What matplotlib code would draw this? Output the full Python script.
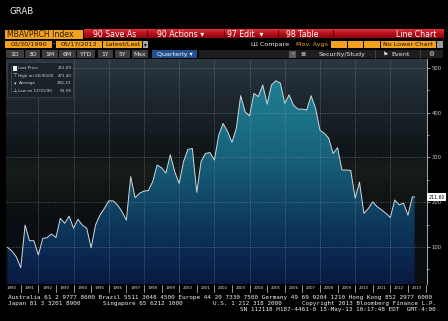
import numpy as np
import pandas as pd
import matplotlib
matplotlib.use("Agg")
import matplotlib.pyplot as plt
from matplotlib.colors import LinearSegmentedColormap
from matplotlib.patches import Rectangle, Polygon

# ---------------- data ----------------
quarter_dates = list(pd.date_range("1990-03-31", "2013-03-31", freq="QE")) + [pd.Timestamp("2013-05-17")]
index_values = [
    99, 91, 78, 53.59,        # 1990
    149, 114, 114, 82,        # 1991
    119, 121, 129, 121,       # 1992
    164, 153, 169, 142,       # 1993
    162, 149, 142, 98,        # 1994
    149, 171, 186, 203,       # 1995
    203, 194, 179, 160,       # 1996
    257, 210, 220, 225,       # 1997
    226, 246, 283, 277,       # 1998
    265, 306, 268, 242,       # 1999
    291, 318, 320, 222,       # 2000
    291, 309, 311, 294,       # 2001
    350, 376, 358, 334,       # 2002
    365, 438, 402, 393,       # 2003
    443, 436, 462, 419,       # 2004
    462, 471.40, 466, 421,    # 2005
    440, 417, 408, 408,       # 2006
    406, 438, 410, 361,       # 2007
    354, 343, 309, 322,       # 2008
    272, 272, 271, 209,       # 2009
    245, 175, 186, 201,       # 2010
    190, 183, 175, 166,       # 2011
    205, 194, 198, 171,       # 2012
    212, 211.60,              # 2013
]
y_ticks = [100, 200, 300, 400, 500]
y_minor = [50, 150, 250, 350, 450]
year_labels = [str(y) for y in range(1990, 2014)]
grid_years = list(range(1992, 2013, 2))
legend_labels = ["Last Price", "High on 06/30/05", "Average", "Low on 12/31/90"]
legend_values = ["211.60", "471.40", "256.33", "53.59"]
last_price = 211.60
last_price_text = "211.60"


def dec_year(d):
    days = 366 if d.is_leap_year else 365
    return d.year + (d.dayofyear - 0.5) / days


t = np.array([dec_year(d) for d in quarter_dates])
v = np.array(index_values, dtype=float)

W, H = 448, 321
fig = plt.figure(figsize=(W / 100, H / 100), dpi=100, facecolor="black")

# ---------------- main plot ----------------
PL, PR, PT, PB = 6, 427, 59, 284
ax = fig.add_axes([PL / W, (H - PB) / H, (PR - PL) / W, (PB - PT) / H])
X0, X1 = 1990.16, 2014.08
Y0, Y1 = 17.3, 520
ax.set_xlim(X0, X1)
ax.set_ylim(Y0, Y1)
ax.set_facecolor("black")

# background gradient (top -> bottom)
bg_cmap = LinearSegmentedColormap.from_list(
    "bg",
    [(0.0, "#2c3841"), (0.12, "#212b33"), (0.3, "#161e24"), (0.4, "#0f1518"),
     (0.5, "#171d1b"), (0.58, "#121715"), (0.68, "#0c1013"), (1.0, "#0a0e14")])
bg_arr = bg_cmap(np.linspace(0, 1, 256))[:, None, :3]
ax.imshow(bg_arr, extent=[X0, X1, Y0, Y1], aspect="auto", origin="upper", zorder=0)

# gradient fill below line
fill_cmap = LinearSegmentedColormap.from_list(
    "fill",
    [(0.0, "#22889c"), (0.1, "#1f7f92"), (0.3, "#1b6f85"), (0.45, "#175f79"),
     (0.6, "#124b69"), (0.72, "#0e3b5d"), (0.85, "#0b2a52"), (1.0, "#091a40")])
fill_arr = fill_cmap(np.linspace(0, 1, 256))[:, None, :3]
im = ax.imshow(fill_arr, extent=[X0, X1, Y0, Y1], aspect="auto", origin="upper", zorder=1)
verts = np.vstack([[t[0], Y0], np.column_stack([t, v]), [t[-1], Y0]])
poly = Polygon(verts, closed=True, facecolor="none", edgecolor="none", transform=ax.transData)
ax.add_patch(poly)
im.set_clip_path(poly)

# grid
for gy in grid_years:
    ax.axvline(gy, color="#8a949c", lw=0.5, dashes=(1.5, 2), zorder=2, alpha=0.75)
for yt in y_ticks:
    ax.axhline(yt, color="#8a949c", lw=0.5, dashes=(1.5, 2), zorder=2, alpha=0.75)

# price line
ax.plot(t, v, color="#d0d8de", lw=0.7, zorder=3)

# axes styling
ax.set_xticks([])
ax.yaxis.tick_right()
ax.set_yticks(y_ticks)
ax.set_yticks(y_minor, minor=True)
ax.set_yticklabels([str(y) for y in y_ticks])
ax.tick_params(axis="y", which="major", direction="out", length=2, width=0.5,
               colors="#d0d0d0", labelsize=3.8, pad=1.5)
ax.tick_params(axis="y", which="minor", direction="out", length=1.5, width=0.5, colors="#d0d0d0")
for s in ["left", "top", "bottom"]:
    ax.spines[s].set_visible(False)
ax.spines["right"].set_color("#c8c8c8")
ax.spines["right"].set_linewidth(0.6)

# last price tag
ax.text(1.003, last_price, last_price_text, transform=ax.get_yaxis_transform(),
        ha="left", va="center", fontsize=3.4, color="black", clip_on=False,
        bbox=dict(facecolor="white", edgecolor="none", pad=0.8), zorder=5)

# year labels
xt = ax.get_xaxis_transform()
for i, lab in enumerate(year_labels):
    yr = 1990 + i
    ax.text(yr + 0.5, -0.018, lab, transform=xt, ha="center", va="center",
            fontsize=2.9, color="#e6e6e6", clip_on=False)
    if yr > 1990:
        ax.plot([yr, yr], [-0.006, -0.034], transform=xt, color="#d0d0d0", lw=0.5, clip_on=False)
ax.plot([2014, 2014], [-0.006, -0.034], transform=xt, color="#d0d0d0", lw=0.5, clip_on=False)

# ---------------- overlay (chrome, pixel coordinates) ----------------
ov = fig.add_axes([0, 0, 1, 1], zorder=10)
ov.set_xlim(0, W)
ov.set_ylim(H, 0)
ov.axis("off")
ov.patch.set_alpha(0)

ORANGE = "#f2a21e"


def rect(x0, y0, x1, y1, fc, ec="none", lw=0, alpha=1.0, z=1):
    ov.add_patch(Rectangle((x0, y0), x1 - x0, y1 - y0, facecolor=fc, edgecolor=ec,
                           lw=lw, alpha=alpha, zorder=z))


def txt(x, y, s, size=5.0, color="white", ha="left", family="DejaVu Sans", z=3, **kw):
    ov.text(x, y, s, fontsize=size, color=color, ha=ha, va="center", family=family, zorder=z, **kw)


txt(10, 11, "GRAB", size=6.2, color="#f0f0f0")

# row 1
rect(5, 29.5, 83, 38.5, ORANGE)
txt(7, 34.2, "MBAVPRCH Index", size=5.6, color="#2a1800")
red_cmap = LinearSegmentedColormap.from_list("red", ["#e0303a", "#b8101c", "#8c0810"])
ov.imshow(red_cmap(np.linspace(0, 1, 32))[:, None, :3], extent=[83.5, 443, 38.5, 29.5],
          aspect="auto", origin="upper", zorder=1)
for sx in [147, 224, 278, 333]:
    ov.plot([sx, sx], [29.5, 38.5], color="#5a0006", lw=0.6, zorder=2)
txt(93, 34.2, "90 Save As", size=5.6)
txt(157, 34.2, "90 Actions \u25be", size=5.6)
txt(227, 34.2, "97 Edit  \u25be", size=5.6)
txt(286, 34.2, "98 Table", size=5.6)
txt(436, 34.2, "Line Chart", size=5.6, ha="right")

# row 2
rect(5, 40.5, 52, 47.5, ORANGE)
txt(28.5, 44.2, "03/30/1990", size=4.6, color="#1a1000", ha="center")
txt(53.8, 44.0, "-", size=4.6, color="#f0f0f0", ha="center")
rect(56, 40.5, 102, 47.5, ORANGE)
txt(79, 44.2, "05/17/2013", size=4.6, color="#1a1000", ha="center")
rect(103, 40.5, 142, 47.5, ORANGE)
txt(122.5, 44.2, "Latest/Last", size=4.6, color="#1a1000", ha="center")
rect(143, 40.5, 148, 47.5, "#a8a8a8")
txt(145.5, 44.2, "\u25be", size=4, color="black", ha="center")
txt(251, 44.2, "Ш Compare", size=4.6, color="#f0f0f0")
txt(296, 44.2, "Mov. Avgs", size=4.6, color=ORANGE)
rect(331, 40.5, 347, 47.5, ORANGE)
rect(348, 40.5, 363, 47.5, ORANGE)
rect(364, 40.5, 380, 47.5, ORANGE)
rect(381, 40.5, 436, 47.5, ORANGE)
txt(383, 44.2, "No Lower Chart", size=4.6, color="#1a1000")
rect(437, 40.5, 443, 47.5, "#9a9a9a")

# row 3
btns = [("1D", 6, 24), ("3D", 25, 40), ("1M", 42, 58), ("6M", 59, 76), ("YTD", 77, 95),
        ("1Y", 98, 113), ("5Y", 115, 130), ("Max", 132, 148)]
for lab, a, b in btns:
    rect(a, 50, b, 58, "#3c3c3c")
    txt((a + b) / 2, 54.2, lab, size=4.4, color="#e8e8e8", ha="center")
rect(152, 50, 197, 58, "#22508f")
txt(174.5, 54.2, "Quarterly \u25be", size=4.6, color="white", ha="center")
rect(199, 50, 443, 58, "#1e1e1e")
rect(289, 50.5, 296, 57.5, "#5a5a5a")
txt(292.5, 54.0, "\u203a", size=4.6, color="white", ha="center")
txt(300, 54.2, "\u2263", size=4.6, color="#e0e0e0")
txt(319, 54.2, "Security/Study", size=4.6, color="#e8e8e8")
ov.plot([375, 375], [50, 58], color="#555555", lw=0.5)
txt(383, 54.2, "\u2691", size=4.2, color="#e8e8e8")
txt(391, 54.2, "Event", size=4.6, color="#e8e8e8")
ov.plot([420, 420], [50, 58], color="#555555", lw=0.5)
txt(428, 54.2, "\u2699", size=4.8, color="#e8e8e8")

# legend box
rect(7, 62, 73, 97, "#1a2329", ec="#3c4852", lw=0.5, alpha=0.92, z=1)
ly = [68.3, 75.7, 83.2, 90.6]
for y, lab, val in zip(ly, legend_labels, legend_values):
    txt(18.5, y, lab, size=3.0, color="#d4d4d4")
    txt(71.5, y, val, size=3.0, color="#d4d4d4", ha="right")
ov.plot([11, 11], [66, 92], color="#9aa0a6", lw=0.4, dashes=(1, 1), zorder=2)
rect(13.2, 65.8, 16.8, 70.8, "#f4f4f4", z=3)
txt(15, 75.7, "\u22a4", size=3.8, color="#d4d4d4", ha="center")
txt(15, 83.2, "\u25be", size=3.6, color="#d4d4d4", ha="center")
txt(15, 90.4, "\u22a5", size=3.8, color="#d4d4d4", ha="center")

# footer
MONO = "DejaVu Sans Mono"
txt(8, 297.6, "Australia 61 2 9777 8600 Brazil 5511 3048 4500 Europe 44 20 7330 7500 "
    "Germany 49 69 9204 1210 Hong Kong 852 2977 6000", size=4.3, family=MONO, color="#f0f0f0")
txt(8, 303.3, "Japan 81 3 3201 8900", size=4.3, family=MONO, color="#f0f0f0")
txt(103, 303.3, "Singapore 65 6212 1000", size=4.3, family=MONO, color="#f0f0f0")
txt(213, 303.3, "U.S. 1 212 318 2000", size=4.3, family=MONO, color="#f0f0f0")
txt(436, 303.3, "Copyright 2013 Bloomberg Finance L.P.", size=4.3, family=MONO,
    color="#f0f0f0", ha="right")
txt(436, 309.2, "SN 112118 H187-4461-0 15-May-13 10:17:48 EDT  GMT-4:00", size=4.3,
    family=MONO, color="#f0f0f0", ha="right")

fig.savefig("out.png", dpi=100, facecolor="black")
